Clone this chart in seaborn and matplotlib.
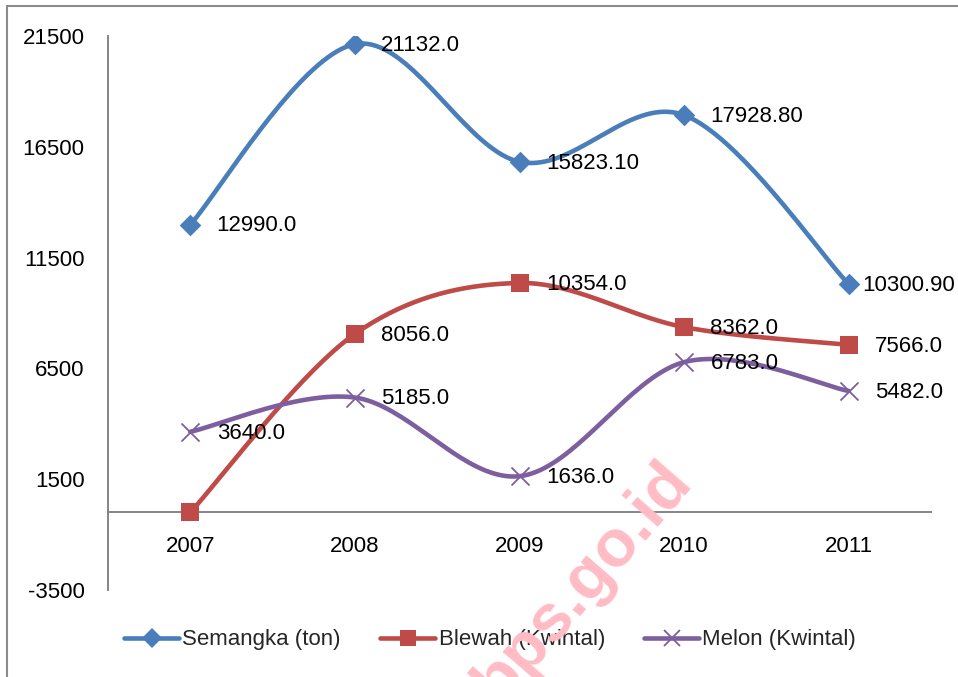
import numpy as np
import pandas as pd
import matplotlib
matplotlib.use("Agg")
import matplotlib.pyplot as plt
from matplotlib.lines import Line2D
from matplotlib import font_manager as fm
import seaborn as sns

# ---- data ----
years = ["2007", "2008", "2009", "2010", "2011"]
semangka = [12990.0, 21132.0, 15823.1, 17928.8, 10300.9]
blewah = [0.0, 8056.0, 10354.0, 8362.0, 7566.0]
melon = [3640.0, 5185.0, 1636.0, 6783.0, 5482.0]
semangka_labels = ["12990.0", "21132.0", "15823.10", "17928.80", "10300.90"]
blewah_labels = [None, "8056.0", "10354.0", "8362.0", "7566.0"]
melon_labels = ["3640.0", "5185.0", "1636.0", "6783.0", "5482.0"]
series_names = ["Semangka (ton)", "Blewah (Kwintal)", "Melon (Kwintal)"]
y_ticks = [-3500, 1500, 6500, 11500, 16500, 21500]

sns.set_style("white")
names = {f.name for f in fm.fontManager.ttflist}
if "Liberation Sans Narrow" in names:
    FAM, FS = "Liberation Sans Narrow", 18.5
else:
    FAM, FS = "Liberation Sans", 16
plt.rcParams['font.family'] = [FAM, 'DejaVu Sans']

colors = ["#4A7EBB", "#BE4B48", "#7D5FA0"]
markers = ["D", "s", "x"]
msizes = [11, 13.5, 13]

W, H = 958, 677
fig = plt.figure(figsize=(W / 100, H / 100), dpi=100)
ax = fig.add_axes([108 / W, (H - 590) / H, (931 - 108) / W, (590 - 36) / H])


def smooth(xs, ys, n=40):
    p = np.column_stack([xs, ys]).astype(float)
    pts = np.vstack([p[0], p, p[-1]])
    out = []
    for i in range(1, len(pts) - 2):
        p0, p1, p2, p3 = pts[i - 1], pts[i], pts[i + 1], pts[i + 2]
        c1 = p1 + (p2 - p0) / 6.0
        c2 = p2 - (p3 - p1) / 6.0
        t = np.linspace(0, 1, n)[:, None]
        seg = ((1 - t) ** 3) * p1 + 3 * ((1 - t) ** 2) * t * c1 + 3 * (1 - t) * t ** 2 * c2 + t ** 3 * p2
        out.append(seg if i == 1 else seg[1:])
    return np.vstack(out)


xs = np.arange(len(years))
all_vals = [semangka, blewah, melon]
all_labels = [semangka_labels, blewah_labels, melon_labels]

for k, (vals, name) in enumerate(zip(all_vals, series_names)):
    c = smooth(xs, vals)
    df = pd.DataFrame({"x": c[:, 0], "y": c[:, 1]})
    sns.lineplot(data=df, x="x", y="y", sort=False, estimator=None, ax=ax,
                 color=colors[k], linewidth=3.3, zorder=3)
for k, vals in enumerate(all_vals):
    dfp = pd.DataFrame({"x": xs, "y": vals})
    if markers[k] == "x":
        sns.scatterplot(data=dfp, x="x", y="y", ax=ax, marker="x", s=msizes[k] ** 2,
                        color=colors[k], linewidth=1.3, zorder=4)
    else:
        sns.scatterplot(data=dfp, x="x", y="y", ax=ax, marker=markers[k], s=msizes[k] ** 2,
                        color=colors[k], edgecolor=colors[k], linewidth=0, zorder=4)

# data labels
for k, (vals, labs) in enumerate(zip(all_vals, all_labels)):
    for i, (v, lab) in enumerate(zip(vals, labs)):
        if lab is None:
            continue
        off = 19
        if k == 0 and i == 4:
            off = 10
        ax.annotate(lab, (xs[i], v), xytext=(off, -1), textcoords="offset points",
                    ha="left", va="center", fontsize=FS, color="black", zorder=5)

ax.set_xlim(-0.5, len(years) - 0.5)
ax.set_ylim(y_ticks[0], y_ticks[-1])
ax.set_yticks(y_ticks)
ax.set_yticklabels([str(t) for t in y_ticks])
ax.set_xticks(xs)
ax.set_xticklabels(years)
ax.set_xlabel("")
ax.set_ylabel("")
ax.tick_params(axis="both", length=0, labelsize=FS, colors="black")
ax.tick_params(axis="y", pad=17)
ax.tick_params(axis="x", pad=17)
for s in ["top", "right"]:
    ax.spines[s].set_visible(False)
ax.spines["bottom"].set_position(("data", 0))
for s in ["left", "bottom"]:
    ax.spines[s].set_color("#868686")
    ax.spines[s].set_linewidth(1.4)
ax.grid(False)

# legend
handles = [Line2D([0], [0], color=colors[k], lw=3.3, marker=markers[k],
                  markersize=msizes[k] * (0.95 if k == 0 else 0.9),
                  markeredgewidth=1.3 if markers[k] == "x" else 0,
                  markerfacecolor=colors[k], markeredgecolor=colors[k])
           for k in range(3)]
fig.legend(handles, series_names, loc="center", bbox_to_anchor=(490 / W, 1 - 640 / H),
           ncol=3, frameon=False, fontsize=FS, handlelength=2.5, handletextpad=0.14,
           columnspacing=1.75)

# outer frame (top and left edges visible)
fig.add_artist(Line2D([7 / W, 1.0], [1 - 6 / H, 1 - 6 / H], color="#8c8c8c", lw=1.5,
                      transform=fig.transFigure))
fig.add_artist(Line2D([7 / W, 7 / W], [0.0, 1 - 6 / H], color="#8c8c8c", lw=1.5,
                      transform=fig.transFigure))

# watermark
fig.text(583 / W, 1 - 582 / H, "bps.go.id", rotation=49, ha="center", va="center",
         fontsize=48, fontweight="bold", color="#ffbcc5", family=["Liberation Sans", "DejaVu Sans"],
         zorder=10)

fig.savefig("out.png", dpi=100, facecolor="white")
